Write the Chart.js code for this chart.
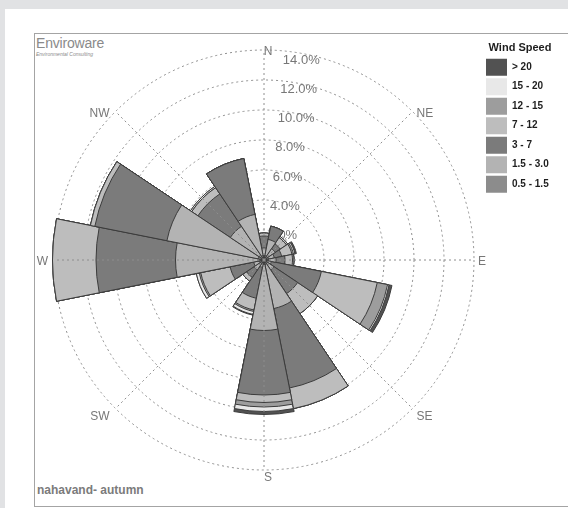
<!DOCTYPE html>
<html lang="en">
<head>
    <meta charset="UTF-8">
    <title>Wind Rose - nahavand autumn</title>
    <script src="https://cdn.jsdelivr.net/npm/chart.js"></script>
    <style>
        body { margin: 0; background: #e1e2e4; width: 568px; height: 508px; overflow: hidden; position: relative; font-family: "Liberation Sans", Arial, sans-serif; }
        #panel { position: absolute; left: 5px; top: 9px; width: 563px; height: 499px; background: #fff; }
        #frame { position: absolute; left: 34px; top: 33px; width: 560px; height: 472px; border: 1px solid #a4a4a4; }
        #logo { position: absolute; left: 36px; top: 36px; color: #8a8a8a; }
        #logo .big { font-size: 14px; line-height: 15px; letter-spacing: -0.2px; }
        #logo .small { font-size: 5px; line-height: 6px; font-style: italic; }
        #site { position: absolute; left: 37px; top: 483px; font-size: 12px; font-weight: bold; color: #7b7b7b; }
        .chart-container { position: absolute; left: 0; top: 0; width: 568px; height: 508px; }
    </style>
</head>
<body>
    <div id="panel"></div>
    <div id="frame"></div>
    <div id="logo"><div class="big">Enviroware</div><div class="small">Environmental Consulting</div></div>
    <div id="site">nahavand- autumn</div>
    <div class="chart-container">
        <canvas id="roseChart"></canvas>
    </div>

    <script>
        // wind directions, clockwise from north
        const directions = ['N', 'NNE', 'NE', 'ENE', 'E', 'ESE', 'SE', 'SSE', 'S', 'SSW', 'SW', 'WSW', 'W', 'WNW', 'NW', 'NNW'];

        // frequency (%) of each speed class per direction
        const speed05_15 = [0.3, 0.3, 0.3, 0.3, 0.3, 0.2, 0.2, 0.3, 0.3, 0.2, 0.3, 0.3, 0.4, 0.4, 0.3, 0.3];
        const speed15_30 = [0.5, 1.1, 0.6, 0.4, 0.5, 0.3, 0.6, 3.0, 4.4, 0.3, 0.5, 0.4, 5.5, 6.2, 2.4, 2.8];
        const speed3_7   = [0.8, 0.9, 0.4, 0.5, 0.6, 3.4, 1.9, 5.4, 4.3, 2.1, 0.6, 1.6, 5.3, 4.9, 2.6, 3.8];
        const speed7_12  = [0.2, 0.0, 0.5, 0.7, 0.5, 3.8, 1.6, 1.4, 0.5, 0.8, 0.3, 2.0, 2.9, 0.3, 0.5, 0.0];
        const speed12_15 = [0.0, 0.0, 0.0, 0.1, 0.1, 0.7, 0.0, 0.0, 0.3, 0.1, 0.0, 0.1, 0.0, 0.0, 0.0, 0.0];
        const speed15_20 = [0.0, 0.0, 0.1, 0.1, 0.0, 0.1, 0.0, 0.0, 0.3, 0.2, 0.0, 0.2, 0.0, 0.0, 0.1, 0.0];
        const speedOver20 = [0.0, 0.0, 0.0, 0.1, 0.0, 0.2, 0.0, 0.0, 0.2, 0.05, 0.0, 0.0, 0.0, 0.0, 0.0, 0.0];

        const speedClasses = ['0.5 - 1.5', '1.5 - 3.0', '3 - 7', '7 - 12', '12 - 15', '15 - 20', '> 20'];
        const classColors = ['#8c8c8c', '#b3b3b3', '#7b7b7b', '#bdbdbd', '#9d9d9d', '#e8e8e8', '#525252'];

        // radial ticks and compass labels
        const ringTicks = [2, 4, 6, 8, 10, 12, 14];
        const ringMax = 14;
        const compassLabels = ['N', 'NE', 'E', 'SE', 'S', 'SW', 'W', 'NW'];
        const compassAngles = [0, 45, 90, 135, 180, 225, 270, 315];

        // polar area draws from the centre, so stack the classes as running totals
        const classSeries = [speed05_15, speed15_30, speed3_7, speed7_12, speed12_15, speed15_20, speedOver20];
        const running = directions.map(() => 0);
        const datasets = classSeries.map((series, k) => {
            series.forEach((v, i) => { running[i] += v; });
            return {
                label: speedClasses[k],
                data: running.map(v => +v.toFixed(2)),
                backgroundColor: classColors[k],
                borderColor: '#3c3c3c',
                borderWidth: 1
            };
        });

        const gridColor = '#8e8e8e';
        const labelColor = '#777777';

        // percentage labels, spokes and compass letters
        const roseDecor = {
            id: 'roseDecor',
            beforeDatasetsDraw(chart) {
                const scale = chart.scales.r;
                const ctx = chart.ctx;
                ctx.save();
                ctx.font = '13px "Liberation Sans", Arial, sans-serif';
                ctx.fillStyle = labelColor;
                ctx.textAlign = 'left';
                ctx.textBaseline = 'middle';
                ringTicks.forEach(v => {
                    const d = scale.getDistanceFromCenterForValue(v);
                    ctx.fillText(v.toFixed(1) + '%', scale.xCenter + 1 + d * 0.085, scale.yCenter - d + 5 + d * 0.024);
                });
                ctx.restore();
            },
            afterDatasetsDraw(chart) {
                const scale = chart.scales.r;
                const ctx = chart.ctx;
                const len = scale.getDistanceFromCenterForValue(ringMax);
                ctx.save();
                ctx.strokeStyle = gridColor;
                ctx.lineWidth = 1;
                ctx.setLineDash([2, 3]);
                ctx.beginPath();
                compassAngles.forEach(a => {
                    const rad = a * Math.PI / 180;
                    ctx.moveTo(scale.xCenter, scale.yCenter);
                    ctx.lineTo(scale.xCenter + len * Math.sin(rad), scale.yCenter - len * Math.cos(rad));
                });
                ctx.stroke();
                ctx.restore();
            },
            afterDraw(chart) {
                const scale = chart.scales.r;
                const ctx = chart.ctx;
                const len = scale.getDistanceFromCenterForValue(ringMax);
                ctx.save();
                ctx.font = '12px "Liberation Sans", Arial, sans-serif';
                ctx.fillStyle = labelColor;
                ctx.textBaseline = 'middle';
                compassLabels.forEach((txt, i) => {
                    const rad = compassAngles[i] * Math.PI / 180;
                    const sx = Math.sin(rad), cy = Math.cos(rad);
                    let x = scale.xCenter + len * sx;
                    let y = scale.yCenter - len * cy;
                    // letters sit just outside the outer ring, hanging off its edge
                    if (sx > 0.1) { ctx.textAlign = 'left'; x += 4; }
                    else if (sx < -0.1) { ctx.textAlign = 'right'; x -= 6; }
                    else { ctx.textAlign = 'center'; x += 4; }
                    y += cy > 0.1 ? 2 : (cy < -0.1 ? 8 : 2);
                    ctx.fillText(txt, x, y);
                });
                ctx.restore();
            }
        };

        const ctx = document.getElementById('roseChart').getContext('2d');
        const roseChart = new Chart(ctx, {
            type: 'polarArea',
            data: {
                labels: directions,
                datasets: datasets
            },
            options: {
                responsive: true,
                maintainAspectRatio: false,
                animation: false,
                layout: {
                    padding: { left: 45, top: 36, right: 11.5, bottom: 24 }
                },
                scales: {
                    r: {
                        min: 0,
                        // leaves room above the 14% ring for the legend title
                        max: 14.6,
                        startAngle: -11.25,
                        ticks: { display: false, stepSize: 2, z: 1 },
                        grid: {
                            color: gridColor,
                            lineWidth: (c) => ringTicks.includes(c.tick.value) ? 1 : 0
                        },
                        border: { dash: [2, 3] },
                        angleLines: { display: false },
                        pointLabels: { display: false }
                    }
                },
                plugins: {
                    legend: {
                        position: 'right',
                        align: 'start',
                        maxWidth: 73,
                        onClick: () => {},
                        title: {
                            display: true,
                            text: 'Wind Speed',
                            color: '#1e1e1e',
                            font: { size: 11, weight: 'bold', family: '"Liberation Sans", Arial, sans-serif' },
                            padding: { top: 6.5, bottom: 0.5 }
                        },
                        labels: {
                            boxWidth: 21,
                            boxHeight: 17,
                            padding: 2.5,
                            color: '#1e1e1e',
                            font: { size: 10, weight: 'bold', family: '"Liberation Sans", Arial, sans-serif' },
                            generateLabels: () => speedClasses.map((txt, k) => ({
                                text: txt,
                                fillStyle: classColors[k],
                                strokeStyle: classColors[k],
                                lineWidth: 0,
                                hidden: false,
                                index: k
                            })).reverse()
                        }
                    },
                    tooltip: { enabled: false }
                }
            },
            plugins: [roseDecor]
        });
    </script>
</body>
</html>
